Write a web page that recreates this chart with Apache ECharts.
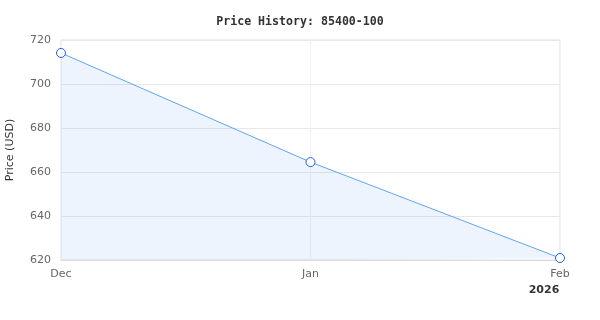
<!DOCTYPE html>
<html><head><meta charset="utf-8">
<script src="https://cdn.jsdelivr.net/npm/echarts@6/dist/echarts.min.js"></script>
<style>html,body{margin:0;padding:0;background:#fff}#c{width:600px;height:320px}</style>
</head><body><div id="c"></div>
<script>
const categories = ['Dec', 'Jan', 'Feb'];
const prices = [714.1, 664.5, 620.9];
const yTicks = [620, 640, 660, 680, 700, 720];
const yearLabel = '2026';

const F = '"DejaVu Sans", sans-serif';
const chart = echarts.init(document.getElementById('c'), null, {renderer: 'canvas'});
chart.setOption({
  animation: false,
  title: {
    text: 'Price History: 85400-100',
    left: 'center', top: 11,
    textStyle: {fontFamily: '"DejaVu Sans Mono", monospace', fontWeight: 'bold', fontSize: 11.6, color: '#333'}
  },
  grid: {left: 61, right: 40, top: 40, bottom: 60, containLabel: false, outerBoundsMode: 'none', show: true, borderColor: '#ddd', borderWidth: 1},
  xAxis: {
    type: 'category', data: categories, boundaryGap: false,
    axisLine: {show: true, lineStyle: {color: '#ddd'}},
    axisTick: {show: false},
    splitLine: {show: true, lineStyle: {color: '#f0f2f6'}},
    axisLabel: {
      color: '#666', fontFamily: F, fontSize: 11, margin: 9,
      formatter: function (v, i) { return i === categories.length - 1 ? v + '\n{y|' + yearLabel + '}' : v; },
      rich: {y: {fontWeight: 'bold', color: '#333', fontSize: 11, fontFamily: F, padding: [5, 32, 0, 0]}}
    }
  },
  yAxis: {
    type: 'value', min: yTicks[0], max: yTicks[yTicks.length - 1], interval: 20,
    name: 'Price (USD)', nameLocation: 'middle', nameGap: 45,
    nameTextStyle: {color: '#333', fontFamily: F, fontSize: 11},
    axisLine: {show: false}, axisTick: {show: false},
    splitLine: {lineStyle: {color: '#e8e8e8'}},
    axisLabel: {color: '#666', fontFamily: F, fontSize: 11, margin: 10}
  },
  series: [{
    type: 'line', data: prices,
    symbol: 'circle', symbolSize: 9,
    itemStyle: {color: '#fff', borderColor: '#1f5fe0', borderWidth: 1},
    lineStyle: {color: '#5fa5f3', width: 1},
    areaStyle: {color: 'rgba(54,130,235,0.12)'}
  }]
});
</script></body></html>
